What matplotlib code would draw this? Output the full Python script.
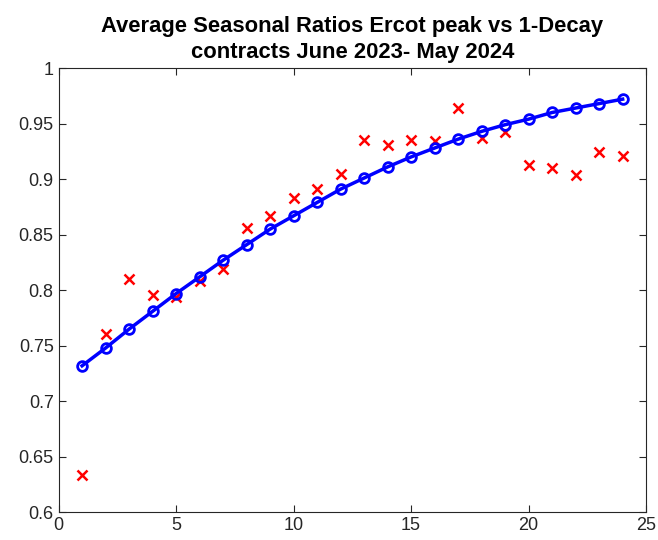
import matplotlib
matplotlib.use("Agg")
import matplotlib.pyplot as plt

# contract index
months = list(range(1, 25))

# observed seasonal ratios (red crosses)
ratios = [0.634, 0.761, 0.810, 0.796, 0.794, 0.808, 0.819, 0.856,
          0.867, 0.883, 0.891, 0.905, 0.935, 0.931, 0.935, 0.934,
          0.964, 0.937, 0.942, 0.913, 0.910, 0.904, 0.924, 0.921]

# fitted 1-decay curve (blue)
fitted = [0.732, 0.748, 0.765, 0.781, 0.797, 0.812, 0.827, 0.841,
          0.855, 0.867, 0.879, 0.891, 0.901, 0.911, 0.920, 0.928,
          0.936, 0.943, 0.949, 0.954, 0.960, 0.964, 0.968, 0.972]

plt.rcParams['font.family'] = ['Liberation Sans', 'DejaVu Sans']

fig = plt.figure(figsize=(6.58, 5.4), dpi=100)
ax = fig.add_axes([0.089, 0.051, 0.893, 0.823])

ax.plot(months, ratios, 'x', color='red', markersize=7, markeredgewidth=1.8)
ax.plot(months, fitted, '-o', color='blue', linewidth=2.5,
        markersize=7, markerfacecolor='none', markeredgewidth=2)

ax.set_xlim(0, 25)
ax.set_ylim(0.6, 1)
ax.set_xticks([0, 5, 10, 15, 20, 25])
ax.set_yticks([0.6, 0.65, 0.7, 0.75, 0.8, 0.85, 0.9, 0.95, 1])
ax.set_yticklabels(['0.6', '0.65', '0.7', '0.75', '0.8', '0.85', '0.9', '0.95', '1'])

for s in ax.spines.values():
    s.set_color('#262626')
    s.set_linewidth(0.8)
ax.tick_params(direction='in', top=True, right=True, length=5, width=0.8,
               color='#262626', labelsize=13, labelcolor='#262626')

ax.set_title('Average Seasonal Ratios Ercot peak vs 1-Decay\ncontracts June 2023- May 2024',
             fontsize=15.8, fontweight='bold', pad=7, linespacing=1.35)

fig.savefig('out.png', dpi=100)
